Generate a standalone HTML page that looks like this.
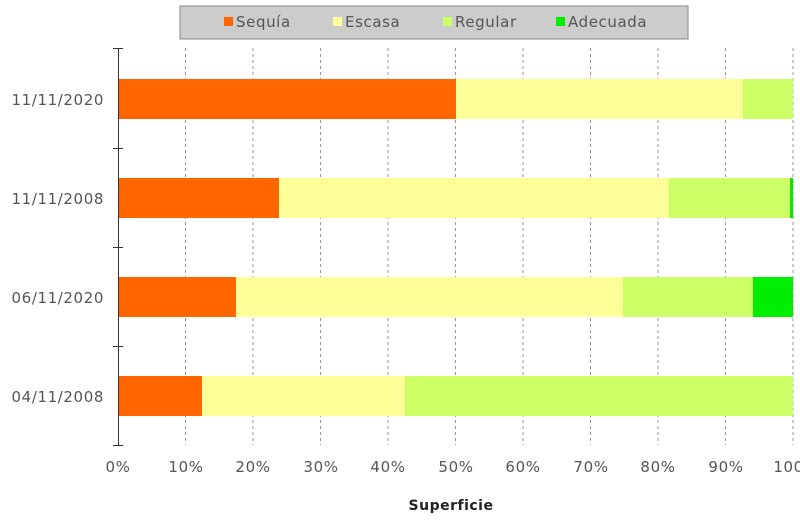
<!DOCTYPE html>
<html><head><meta charset="utf-8"><style>
html,body{margin:0;padding:0;background:#fff;}
svg{display:block;font-family:"DejaVu Sans","Liberation Sans",sans-serif;}
</style></head><body>
<svg width="800" height="521" viewBox="0 0 800 521" xmlns="http://www.w3.org/2000/svg">
<rect x="180" y="6" width="508" height="33" fill="#cccccc" stroke="#888" stroke-width="1"/>
<rect x="224" y="17" width="9" height="9" fill="#ff6600"/>
<text x="236" y="27" font-size="15" letter-spacing="0.6" fill="#555">Sequía</text>
<rect x="333" y="17" width="9" height="9" fill="#ffff99"/>
<text x="345" y="27" font-size="15" letter-spacing="0.6" fill="#555">Escasa</text>
<rect x="443" y="17" width="9" height="9" fill="#ccff66"/>
<text x="455" y="27" font-size="15" letter-spacing="0.6" fill="#555">Regular</text>
<rect x="556" y="17" width="9" height="9" fill="#00ee00"/>
<text x="568" y="27" font-size="15" letter-spacing="0.6" fill="#555">Adecuada</text>
<g stroke="#999" stroke-dasharray="3,3" stroke-width="1">
<line x1="185.5" y1="48" x2="185.5" y2="445"/><line x1="253" y1="48" x2="253" y2="445"/>
<line x1="320.5" y1="48" x2="320.5" y2="445"/><line x1="388" y1="48" x2="388" y2="445"/>
<line x1="455.5" y1="48" x2="455.5" y2="445"/><line x1="523" y1="48" x2="523" y2="445"/>
<line x1="590.5" y1="48" x2="590.5" y2="445"/><line x1="658" y1="48" x2="658" y2="445"/>
<line x1="725.5" y1="48" x2="725.5" y2="445"/><line x1="793" y1="48" x2="793" y2="445"/>
</g>
<g>
<rect x="118" y="79" width="338" height="40" fill="#ff6600"/>
<rect x="456" y="79" width="287" height="40" fill="#ffff99"/>
<rect x="743" y="79" width="50" height="40" fill="#ccff66"/>
<rect x="118" y="178" width="161" height="40" fill="#ff6600"/>
<rect x="279" y="178" width="390" height="40" fill="#ffff99"/>
<rect x="669" y="178" width="121" height="40" fill="#ccff66"/>
<rect x="790" y="178" width="3" height="40" fill="#00ee00"/>
<rect x="118" y="277" width="118" height="40" fill="#ff6600"/>
<rect x="236" y="277" width="387" height="40" fill="#ffff99"/>
<rect x="623" y="277" width="130" height="40" fill="#ccff66"/>
<rect x="753" y="277" width="40" height="40" fill="#00ee00"/>
<rect x="118" y="376" width="84" height="40" fill="#ff6600"/>
<rect x="202" y="376" width="203" height="40" fill="#ffff99"/>
<rect x="405" y="376" width="388" height="40" fill="#ccff66"/>
</g>
<g stroke="#333" stroke-width="1">
<line x1="118.5" y1="48" x2="118.5" y2="445"/>
<line x1="113" y1="48.5" x2="123" y2="48.5"/><line x1="113" y1="148.5" x2="123" y2="148.5"/>
<line x1="113" y1="247.5" x2="123" y2="247.5"/><line x1="113" y1="346.5" x2="123" y2="346.5"/>
<line x1="113" y1="445.5" x2="123" y2="445.5"/>
</g>
<g font-size="15" letter-spacing="0.6" fill="#555" text-anchor="end">
<text x="104" y="105">11/11/2020</text>
<text x="104" y="204">11/11/2008</text>
<text x="104" y="303">06/11/2020</text>
<text x="104" y="402">04/11/2008</text>
</g>
<g font-size="15" letter-spacing="0.6" fill="#555" text-anchor="middle">
<text x="118" y="472">0%</text><text x="186" y="472">10%</text><text x="253" y="472">20%</text>
<text x="321" y="472">30%</text><text x="388" y="472">40%</text><text x="456" y="472">50%</text>
<text x="523" y="472">60%</text><text x="591" y="472">70%</text><text x="658" y="472">80%</text>
<text x="726" y="472">90%</text><text x="796" y="472">100%</text>
</g>
<text x="451" y="510" font-size="14" letter-spacing="0.5" font-weight="bold" fill="#222" text-anchor="middle">Superficie</text>
</svg>
</body></html>
